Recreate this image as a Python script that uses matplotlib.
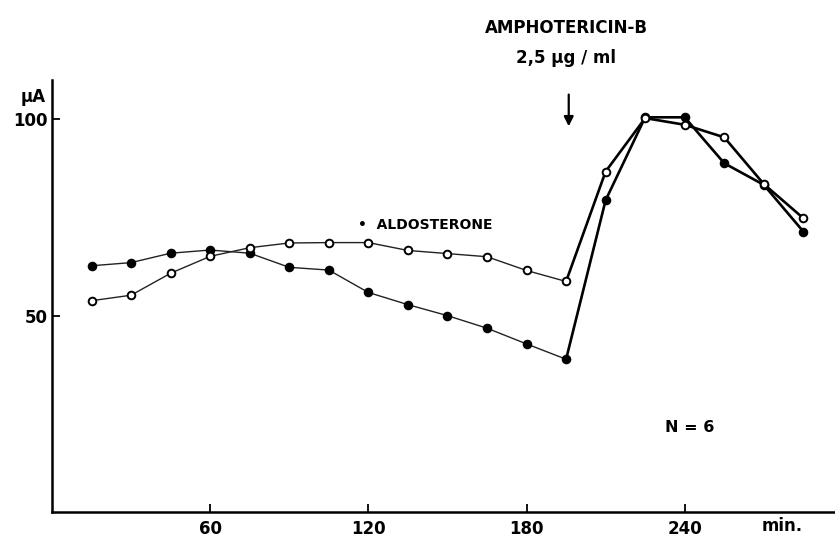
import matplotlib.pyplot as plt

# time points (min) and short-circuit current (uA)
minutes = [15, 30, 45, 60, 75, 90, 105, 120, 135, 150, 165, 180, 195,
           210, 225, 240, 255, 270, 285]
control = [62.7, 63.5, 65.9, 66.7, 65.9, 62.3, 61.6, 55.9, 52.8, 50.0,
           46.8, 42.8, 38.9, 79.4, 100.5, 100.5, 88.8, 83.3, 71.4]
aldosterone = [53.8, 55.2, 60.8, 65.1, 67.3, 68.5, 68.6, 68.6, 66.6,
               65.8, 65.0, 61.5, 58.7, 86.7, 100.3, 98.6, 95.4, 83.5, 74.8]

xticks = [60, 120, 180, 240]
yticks = [50, 100]
drug_time = 195  # amphotericin added after this sample

plt.rcParams['font.family'] = ['Liberation Sans Narrow', 'DejaVu Sans']

W, H = 835, 538
fig = plt.figure(figsize=(W / 100, H / 100), dpi=100)
ax = fig.add_axes([52 / W, 26 / H, 1 - 52 / W, 432 / H])

k = minutes.index(drug_time)
for vals, face in [(control, 'black'), (aldosterone, 'white')]:
    # thin line before the drug, heavy line after
    ax.plot(minutes[:k + 1], vals[:k + 1], color='#222222', lw=1.0, zorder=2)
    ax.plot(minutes[k:], vals[k:], color='black', lw=1.9, zorder=2)
    ax.plot(minutes, vals, ls='none', marker='o', ms=5.5, mfc=face,
            mec='black', mew=1.4, zorder=3)

ax.set_xlim(0, 297)
ax.set_ylim(0, 110)
ax.set_xticks(xticks)
ax.set_yticks(yticks)
ax.tick_params(direction='in', length=6, width=1.3, labelsize=12)
ax.tick_params(axis='x', pad=6)
ax.tick_params(axis='y', pad=3)
for lbl in ax.get_xticklabels() + ax.get_yticklabels():
    lbl.set_fontweight('bold')
for s in ['top', 'right']:
    ax.spines[s].set_visible(False)
ax.spines['left'].set_linewidth(1.8)
ax.spines['bottom'].set_linewidth(1.8)

def ftext(x, y, s, **kw):
    # place text by pixel position in the figure
    fig.text(x / W, 1 - y / H, s, fontweight='bold', ha='center',
             va='center', **kw)

ftext(33, 97, 'μA', fontsize=12)
ftext(782, 526, 'min.', fontsize=12)
ftext(566, 28, 'AMPHOTERICIN-B', fontsize=12)
ftext(566, 58, '2,5 μg / ml', fontsize=12)
ftext(690, 428, 'N = 6', fontsize=11.5)

ax.text(116, 73, '•  ALDOSTERONE', fontsize=10, fontweight='bold',
        ha='left', va='center')

ax.annotate('', xy=(196, 97.5), xytext=(196, 107),
            arrowprops=dict(arrowstyle='-|>', color='black', lw=1.6,
                            mutation_scale=14),
            annotation_clip=False)

fig.savefig('out.png', dpi=100)
